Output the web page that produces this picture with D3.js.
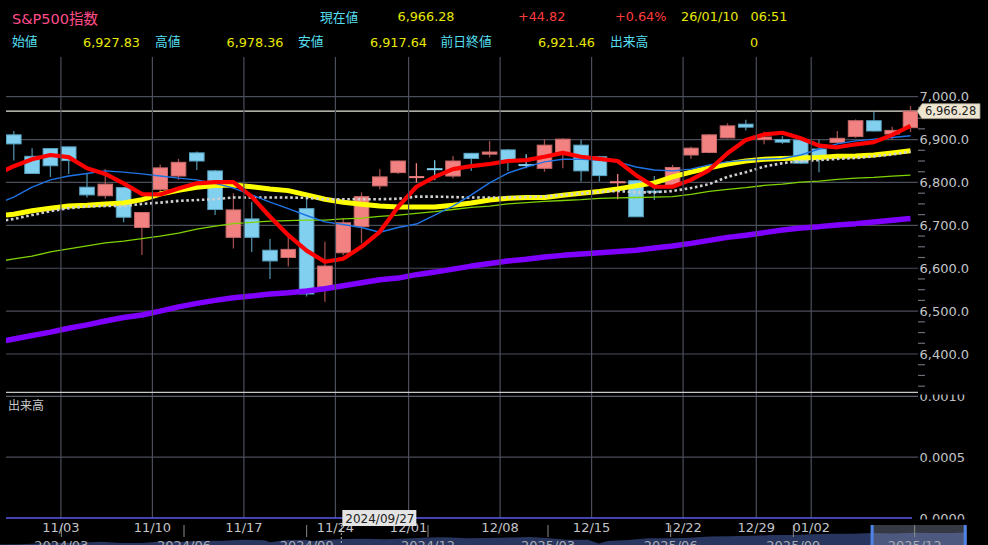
<!DOCTYPE html>
<html><head><meta charset="utf-8">
<script src="https://cdn.jsdelivr.net/npm/d3@7"></script>
<style>
body{margin:0;background:#000;overflow:hidden}
svg{display:block}
text{font-family:"DejaVu Sans","Noto Sans CJK JP",sans-serif}
</style></head>
<body><svg id="c" width="988" height="545"></svg>
<script>
// ---------- data ----------
const dates = ["10/29","10/30","10/31","11/03","11/04","11/05","11/06","11/07","11/10","11/11","11/12","11/13","11/14",
"11/17","11/18","11/19","11/20","11/21","11/24","11/25","11/26","11/28","12/01","12/02","12/03","12/04","12/05",
"12/08","12/09","12/10","12/11","12/12","12/15","12/16","12/17","12/18","12/19","12/22","12/23","12/24","12/26",
"12/29","12/30","12/31","01/02","01/05","01/06","01/07","01/08","01/09"];
const opens  = [6911,6861,6879,6883,6789,6769,6788,6695,6784,6815,6869,6827,6672,6715,6642,6625,6739,6556,6636,6697,6792,6823,6812,6832,6815,6868,6866,6876,6841,6833,6870,6887,6860,6800,6804,6780,6794,6864,6870,6904,6936,6900,6900,6899,6878,6893,6907,6944,6913,6927.83];
const highs  = [6920,6880,6880,6884,6820,6831,6790,6731,6842,6855,6872,6829,6775,6755,6668,6680,6767,6662,6716,6777,6831,6851,6845,6852,6862,6869,6897,6878,6866,6901,6903,6899,6862,6820,6806,6815,6841,6883,6913,6938,6946,6918,6908,6900,6899,6920,6947,6965,6930,6978.36];
const lows   = [6851,6820,6813,6820,6765,6762,6707,6631,6774,6806,6829,6724,6646,6638,6575,6604,6534,6522,6630,6658,6784,6820,6800,6806,6810,6827,6858,6827,6833,6825,6833,6802,6802,6761,6720,6759,6793,6855,6868,6903,6921,6889,6890,6843,6824,6891,6904,6919,6899,6917.64];
const closes = [6890,6821,6839,6851,6771,6796,6719,6730,6834,6847,6850,6737,6736,6672,6617,6644,6540,6605,6706,6767,6813,6850,6813,6830,6850,6856,6871,6850,6840,6887,6901,6827,6816,6801,6720,6777,6835,6880,6911,6932,6929,6906,6894,6845,6860,6903,6944,6920,6921.46,6966.28];

// moving averages, first value belongs to the day before the first candle (10/28)
const maDates = ["10/28"].concat(dates);
const maRed    = [6818,6838,6854,6864,6859,6833,6820,6798,6773,6772,6786,6798,6801,6801,6767,6720,6677,6641,6615,6622,6650,6685,6743,6790,6813,6831,6838,6843,6850,6852,6860,6869,6860,6855,6850,6817,6790,6790,6806,6829,6868,6899,6912,6916,6903,6886,6882,6889,6894,6911,6932];
const maBlue   = [6748,6766,6789,6806,6815,6821,6827,6824,6820,6815,6810,6806,6798,6787,6771,6754,6739,6723,6708,6702,6695,6684,6695,6703,6724,6745,6771,6799,6822,6836,6848,6854,6854,6852,6848,6836,6829,6827,6831,6841,6848,6852,6854,6856,6864,6878,6890,6897,6901,6905,6909];
const maYellow = [6722,6726,6734,6740,6745,6747,6750,6752,6760,6773,6782,6789,6793,6794,6790,6785,6781,6771,6761,6754,6749,6745,6743,6743,6743,6747,6752,6759,6763,6765,6765,6770,6775,6779,6785,6792,6799,6813,6824,6834,6843,6850,6854,6856,6857,6858,6861,6862,6864,6869,6874];
const maWhite  = [6708,6715,6724,6733,6740,6744,6745,6745,6750,6753,6757,6759,6761,6765,6765,6765,6765,6764,6761,6761,6761,6761,6762,6767,6767,6766,6765,6765,6765,6766,6767,6771,6774,6778,6780,6777,6777,6780,6787,6796,6813,6824,6837,6845,6850,6852,6855,6857,6861,6865,6872];
const maGreen  = [6614,6622,6628,6638,6645,6652,6659,6663,6669,6675,6682,6691,6698,6704,6707,6710,6711,6712,6712,6715,6717,6721,6724,6728,6732,6737,6742,6745,6750,6753,6756,6758,6760,6763,6764,6765,6766,6767,6772,6779,6784,6788,6793,6796,6801,6803,6807,6810,6812,6815,6817];
const maPurple = [6427,6435,6443,6451,6460,6468,6477,6485,6491,6500,6510,6518,6525,6531,6535,6540,6543,6547,6552,6559,6566,6573,6577,6585,6591,6598,6605,6611,6617,6621,6626,6630,6633,6636,6639,6642,6647,6652,6658,6665,6672,6677,6683,6689,6694,6697,6701,6704,6708,6712,6716];

const weekStarts = ["11/03","11/10","11/17","11/24","12/01","12/08","12/15","12/22","12/29","01/02"];
const priceTicks = [6400,6500,6600,6700,6800,6900,7000];
const volTicks = [0,0.0005,0.001];

// overview strip (long history)
const miniDates = ["2024-01-15","2024-01-31","2024-02-15","2024-02-29","2024-03-15","2024-03-31","2024-04-15","2024-04-30",
"2024-05-15","2024-05-31","2024-06-15","2024-06-30","2024-07-15","2024-07-31","2024-08-05","2024-08-15","2024-08-31",
"2024-09-06","2024-09-15","2024-09-30","2024-10-15","2024-10-31","2024-11-15","2024-11-30","2024-12-15","2024-12-31",
"2025-01-15","2025-01-31","2025-02-15","2025-02-28","2025-03-15","2025-03-31","2025-04-08","2025-04-15","2025-04-30",
"2025-05-15","2025-05-31","2025-06-15","2025-06-30","2025-07-15","2025-07-31","2025-08-15","2025-08-31","2025-09-15",
"2025-09-30","2025-10-15","2025-10-31","2025-11-15","2025-11-30","2025-12-15","2025-12-31","2026-01-09"];
const miniValues = [4780,4846,5030,5096,5117,5254,5061,5036,5308,5278,5431,5460,5631,5522,5186,5543,5648,5408,5626,5762,
5815,5705,5870,6032,6051,5882,5950,6040,6114,5955,5638,5612,4982,5396,5569,5916,5912,5977,6205,6244,6339,6449,6460,
6615,6688,6671,6840,6734,6849,6816,6845,6966];
const miniTicks = ["2024-03-01","2024-06-01","2024-09-01","2024-12-01","2025-03-01","2025-06-01","2025-09-01","2025-12-01"];
const miniRange = ["2024-01-15","2026-01-10"];
const selRange = ["2025-10-29","2026-01-09"];
const cursorDate = "2024-09-27";

const header = {name:"S&P500指数", date:"26/01/10", time:"06:51", pct:"+0.64%", volume:"0"};

// ---------- drawing ----------
const svg = d3.select("#c");
svg.append("rect").attr("width",988).attr("height",545).attr("fill","#000");
const L=6, R=918, T=57, B=392, VB=518;
const GRID="#4a4e5a";

const x = d3.scalePoint().domain(dates).range([13.8, 910.5]);
const step = x.step();
const bodyW = 15.6;
const xm = k => k===0 ? x(dates[0]) - step : x(dates[k-1]);
const y = d3.scaleLinear().domain([6400,7000]).range([354, 96.7]);
const yv = d3.scaleLinear().domain([0,0.001]).range([VB, 396.3]);

const defs = svg.append("defs");
defs.append("clipPath").attr("id","main").append("rect").attr("x",L).attr("y",T).attr("width",R-L).attr("height",B-T);
defs.append("clipPath").attr("id","axis").append("rect").attr("x",R).attr("y",T).attr("width",988-R).attr("height",B-T);
defs.append("clipPath").attr("id","vaxis").append("rect").attr("x",R).attr("y",394.5).attr("width",988-R).attr("height",VB-394.5+1.5);
defs.append("clipPath").attr("id","strip").append("rect").attr("x",0).attr("y",525).attr("width",988).attr("height",20);

// horizontal grid (price)
const gm = svg.append("g").attr("clip-path","url(#main)");
gm.selectAll("line.h").data(priceTicks).join("line")
  .attr("x1",L).attr("x2",R).attr("y1",d=>y(d)).attr("y2",d=>y(d))
  .attr("stroke",GRID).attr("stroke-width",1.2);
// volume grid
svg.append("line").attr("x1",L).attr("x2",R).attr("y1",yv(0.0005)).attr("y2",yv(0.0005)).attr("stroke",GRID).attr("stroke-width",1.2);
// vertical grid
svg.selectAll("line.v").data(weekStarts).join("line")
  .attr("x1",d=>x(d)-bodyW/2).attr("x2",d=>x(d)-bodyW/2).attr("y1",T).attr("y2",VB)
  .attr("stroke",GRID).attr("stroke-width",1.2);

// current price line
const last = closes[closes.length-1];
gm.append("line").attr("x1",L).attr("x2",R).attr("y1",y(last)).attr("y2",y(last)).attr("stroke","#e8e6dc").attr("stroke-width",1.2);

// panel separator lines
svg.append("line").attr("x1",L).attr("x2",R).attr("y1",392.3).attr("y2",392.3).attr("stroke","#c8c8c8").attr("stroke-width",1.2);
svg.append("line").attr("x1",L).attr("x2",R).attr("y1",396.3).attr("y2",396.3).attr("stroke","#5c606c").attr("stroke-width",1.2);
svg.append("line").attr("x1",L).attr("x2",912).attr("y1",VB).attr("y2",VB).attr("stroke","#5a5aee").attr("stroke-width",1.4);

// candles
const cg = gm.append("g");
dates.forEach((d,i)=>{
  const o=opens[i], c=closes[i], up=c>=o, cx=x(d);
  const doji = Math.abs(c-o)<3;
  const fill = up ? "#f28282" : "#82d0f0";
  const edge = up ? "#c86a6a" : "#5aa4c4";
  const wick = doji ? fill : (up ? "#9e4c4c" : "#4e8aa0");
  cg.append("line").attr("x1",cx).attr("x2",cx).attr("y1",y(highs[i])).attr("y2",y(lows[i]))
    .attr("stroke",wick).attr("stroke-width",1.3);
  const top=y(Math.max(o,c)), bot=y(Math.min(o,c));
  if (doji) {
    cg.append("rect").attr("x",cx-bodyW/2).attr("y",(top+bot)/2-1).attr("width",bodyW).attr("height",Math.max(2,bot-top))
      .attr("fill",fill);
  } else {
    cg.append("rect").attr("x",cx-bodyW/2+0.5).attr("y",top).attr("width",bodyW-1).attr("height",Math.max(1,bot-top))
      .attr("fill",fill).attr("stroke",edge).attr("stroke-width",1);
  }
});

// moving averages
const line = d3.line().x((d,k)=>xm(k)).y(d=>y(d));
const mas = [
  {v:maPurple, c:"#8000ff", w:5.5},
  {v:maGreen,  c:"#7fd400", w:1.3},
  {v:maYellow, c:"#ffff00", w:5},
  {v:maWhite,  c:"#cfcfcf", w:2.6, dash:"2.6,2.6"},
  {v:maBlue,   c:"#1f74e6", w:1.4},
  {v:maRed,    c:"#ff0000", w:4.2}
];
mas.forEach(m=>{
  gm.append("path").attr("d",line(m.v)).attr("fill","none").attr("stroke",m.c).attr("stroke-width",m.w)
    .attr("stroke-linejoin","round").attr("stroke-dasharray",m.dash||null);
});

// y axis (price)
const fmt = d3.format(",.1f");
const ya = svg.append("g").attr("clip-path","url(#axis)");
const minor = d3.range(6325,7001,25).filter(v=>v%100!==0);
ya.selectAll("line.mn").data(minor).join("line")
  .attr("x1",R).attr("x2",R+7).attr("y1",d=>y(d)).attr("y2",d=>y(d)).attr("stroke","#6a6e78").attr("stroke-width",1.2);
ya.selectAll("text").data(priceTicks).join("text")
  .attr("x",R+1.5).attr("y",d=>y(d)+4.6).attr("font-size",13).attr("fill","#c2c4c8").text(d=>fmt(d));

// volume axis
const va = svg.append("g").attr("clip-path","url(#vaxis)");
va.selectAll("text").data(volTicks).join("text")
  .attr("x",R+1.5).attr("y",d=>yv(d)+4.6).attr("font-size",13).attr("fill","#c2c4c8").text(d=>d3.format(".4f")(d));
va.selectAll("line").data(volTicks).join("line")
  .attr("x1",R-6).attr("x2",R).attr("y1",d=>yv(d)).attr("y2",d=>yv(d)).attr("stroke","#6a6e78");
svg.append("text").attr("x",8).attr("y",410).attr("font-size",12).attr("fill","#c8c8c8").text("出来高");

// price tag
const yc = y(last);
svg.append("path").attr("d",`M${R-1},${yc} L${R+4},${yc-7.5} L${R+62},${yc-7.5} L${R+62},${yc+7.5} L${R+4},${yc+7.5} Z`)
  .attr("fill","#efe6d2").attr("stroke","#9a9080").attr("stroke-width",0.8);
svg.append("text").attr("x",R+7).attr("y",yc+4).attr("font-size",11.5).attr("fill","#222").text(d3.format(",.2f")(last));

// overview strip
const parse = d3.timeParse("%Y-%m-%d");
const xt = d3.scaleTime().domain(miniRange.map(parse)).range([0,968]);
const ym = d3.scaleLinear().domain([4700,7000]).range([545,532]);
const strip = svg.append("g").attr("clip-path","url(#strip)");
const mini = miniDates.map((d,i)=>({d:parse(d), v:miniValues[i]}));
strip.append("path").attr("d",d3.area().x(p=>xt(p.d)).y0(545).y1(p=>ym(p.v))(mini)).attr("fill","#27355f");
const s0 = xt(parse(selRange[0])), s1 = xt(parse(selRange[1]));
strip.append("rect").attr("x",s0).attr("y",525).attr("width",s1-s0).attr("height",20).attr("fill","rgba(140,150,175,0.38)");
strip.selectAll("line.mt").data(miniTicks).join("line")
  .attr("x1",d=>xt(parse(d))).attr("x2",d=>xt(parse(d))).attr("y1",525).attr("y2",537).attr("stroke","#8a8a8a");
strip.selectAll("text.mt").data(miniTicks).join("text")
  .attr("x",d=>xt(parse(d))).attr("y",550).attr("text-anchor","middle").attr("font-size",13).attr("fill","#a8acb4")
  .text(d=>d.slice(0,7).replace("-","/"));
[s0, s1-3].forEach(hx=>{
  svg.append("rect").attr("x",hx).attr("y",525).attr("width",3).attr("height",20).attr("fill","#4d82e6");
});

// x axis labels
svg.selectAll("text.xl").data(weekStarts).join("text")
  .attr("x",d=>x(d)-bodyW/2).attr("y",532).attr("text-anchor","middle").attr("font-size",13).attr("fill","#c2c4c8").text(d=>d);

// cursor tooltip
const cx0 = xt(parse(cursorDate));
svg.append("line").attr("x1",cx0).attr("x2",cx0).attr("y1",525).attr("y2",545).attr("stroke","#b0b0b0").attr("stroke-dasharray","2,2");
svg.append("rect").attr("x",cx0+1).attr("y",510).attr("width",74).attr("height",16).attr("fill","#e4e4e4");
svg.append("text").attr("x",cx0+4).attr("y",522.5).attr("font-size",12).attr("fill","#222").text(cursorDate.replace(/-/g,"/"));

// header
const CY="#55dff0", YL="#e8e800", RD="#ff3c3c";
const prev = closes[closes.length-2];
const hdr = [
  {t:header.name, x:12, y:24, c:"#ff4d88", s:14.5},
  {t:"現在値", x:320, y:22, c:CY},
  {t:d3.format(",.2f")(last), x:397.5, y:21, c:YL},
  {t:d3.format("+.2f")(last-prev), x:518, y:21, c:RD},
  {t:header.pct, x:615, y:21, c:RD},
  {t:header.date, x:681, y:21, c:YL},
  {t:header.time, x:750.5, y:21, c:YL},
  {t:"始値", x:12, y:46, c:CY},
  {t:d3.format(",.2f")(opens[opens.length-1]), x:83, y:46.5, c:YL},
  {t:"高値", x:155, y:46, c:CY},
  {t:d3.format(",.2f")(highs[highs.length-1]), x:226.5, y:46.5, c:YL},
  {t:"安値", x:298, y:46, c:CY},
  {t:d3.format(",.2f")(lows[lows.length-1]), x:370, y:46.5, c:YL},
  {t:"前日終値", x:440.5, y:46, c:CY},
  {t:d3.format(",.2f")(prev), x:538, y:46.5, c:YL},
  {t:"出来高", x:610, y:46, c:CY},
  {t:header.volume, x:750, y:46.5, c:YL}
];
svg.selectAll("text.hd").data(hdr).join("text")
  .attr("x",d=>d.x).attr("y",d=>d.y).attr("font-size",d=>d.s||12.8).attr("fill",d=>d.c).text(d=>d.t);
</script>
</body></html>
